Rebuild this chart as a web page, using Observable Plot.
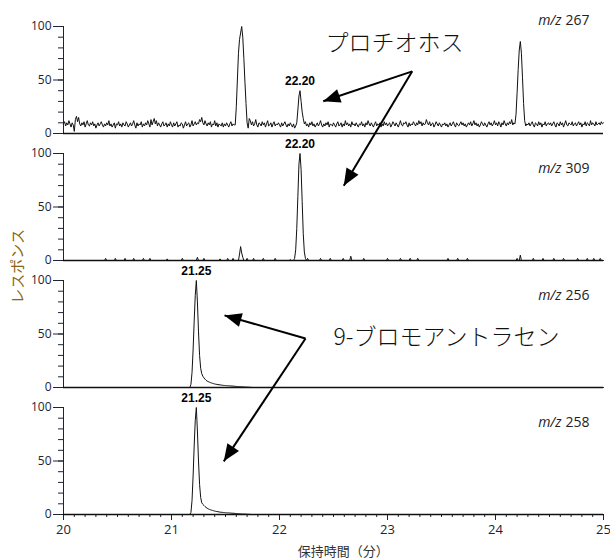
<!DOCTYPE html>
<html><head><meta charset="utf-8">
<script src="https://cdn.jsdelivr.net/npm/d3@7"></script>
<script src="https://cdn.jsdelivr.net/npm/@observablehq/plot@0.6"></script>
<style>body{margin:0;background:#fff;}</style>
</head><body><div id="chart"></div>
<script>
// ---- sampling grid (scan start / interval, minutes)
const scanStart = 20, scanStep = 0.01;

// ---- panels and ion labels
const panels = [0, 1, 2, 3];
const mzValues = ["267", "309", "256", "258"];

// ---- responses (%), one value per scan, 20.00 .. 25.00 min
const mz267 = [
 9,11,7,10,8,12,9,6,10,8,2,13,16,11,15,9,7,10,8,11,6,9,12,8,7,
 10,8,11,7,9,5,8,10,7,9,11,8,6,9,7,10,8,12,7,9,6,8,10,5,9,
 8,11,7,9,6,10,8,7,11,9,6,8,10,7,9,12,8,5,10,7,9,8,11,6,9,
 7,10,8,12,9,6,13,8,11,14,9,12,7,10,8,6,9,11,7,8,10,6,9,7,11,
 8,6,10,7,9,11,6,8,7,10,9,5,8,11,7,9,10,6,8,12,7,9,11,8,10,
 9,13,11,15,10,8,12,9,7,10,8,11,6,9,8,12,7,10,6,9,8,7,10,6,9,
 7,10,8,6,9,11,7,9,8,8,25,50,75,88,94,100,90,70,48,28,10,5,14,12,8,
 11,7,9,13,8,6,10,9,7,11,8,10,6,9,12,7,8,10,6,9,11,7,9,8,10,
 8,6,10,7,9,11,8,6,9,7,10,8,6,9,5,7,10,22,35,40,30,20,14,9,11,
 7,9,6,10,8,11,7,9,6,8,10,7,9,12,8,6,9,7,10,8,11,6,9,8,7,
 10,8,6,9,11,7,8,10,6,9,7,12,8,10,7,9,6,11,8,9,7,10,8,6,9,
 8,11,7,9,6,10,8,12,9,7,10,8,6,9,11,7,9,8,10,6,9,7,11,8,10,
 7,9,10,6,8,11,9,7,10,8,6,9,12,8,7,10,9,11,8,6,10,7,9,8,11,
 9,7,10,8,12,9,11,7,10,8,9,13,10,8,11,7,9,10,6,8,11,9,7,10,8,
 6,9,8,10,7,9,6,8,10,7,9,11,8,6,10,8,7,9,11,8,10,7,9,6,8,
 10,8,11,7,9,12,8,10,7,9,6,8,11,9,7,10,8,6,9,11,8,10,7,9,12,
 8,10,7,11,9,6,10,8,12,9,7,10,8,11,9,13,8,10,9,18,38,60,78,86,75,
 52,28,12,7,9,8,10,7,9,11,8,6,10,9,7,11,8,10,6,9,8,11,7,9,10,
 8,10,7,9,11,8,6,10,9,7,11,8,10,6,9,12,8,7,10,9,8,11,7,9,10,
 7,9,11,8,10,6,9,8,11,7,10,9,7,12,8,10,9,7,11,8,9,10,8,11,9,
 10];

const mz309 = [
 0,0,0,0,0,0,0,0,0,0,0,0,0,0,0,0,0,0,0,0,0,0,0,0,0,
 0,0,0,0,0,0,0,0,0,0,0,0,0,0,2,0,0,0,0,0,0,0,0,2,0,
 0,0,0,0,0,0,0,2,0,0,0,0,0,0,0,2,0,0,0,0,0,0,0,0,2,
 0,0,0,0,0,2,0,0,0,0,0,0,0,0,0,0,0,0,0,0,0,1.5,0,0,0,
 0,0,0,0,0,0,0,0,0,0,2,0,0,0,0,0,0,0,0,0,0,0,0,0,3,
 0,0,0,0,0,2,0,0,0,0,0,0,0,0,0,0,0,0,0,0,1.5,0,0,0,0,
 0,0,2,0,0,0,0,2,0,0,0,0,0,6,13,7,3,0,0,0,2,0,0,0,0,
 0,2,0,0,0,0,0,0,0,0,2,0,0,0,0,0,0,0,0,0,0,2,0,0,0,
 0,0,0,0,0,0,0,0,0,0,1,0,0,0,2,10,30,60,90,100,85,55,25,8,2,
 0,2,0,0,0,0,0,0,0,0,0,0,0,2,0,0,0,0,0,0,0,0,2,0,0,
 0,0,0,0,0,0,0,0,0,2,0,0,0,0,0,0,4,0,0,0,0,0,0,0,0,
 0,0,0,2,0,0,0,0,0,0,0,0,0,0,0,0,0,0,0,0,0,0,0,0,0,
 2,0,0,0,0,0,0,0,0,0,0,0,2,0,0,0,0,0,0,0,0,2,0,0,0,
 0,0,0,2,0,0,0,0,0,0,0,0,0,0,0,0,0,0,0,0,0,0,0,0,0,
 0,0,0,0,0,0,2,0,0,0,0,0,0,0,0,2,0,0,0,0,0,0,0,0,2,
 0,0,0,0,0,0,0,0,0,0,0,0,0,0,0,0,0,0,0,0,0,0,0,0,0,
 0,0,0,0,0,0,0,0,0,0,0,0,0,0,0,0,0,0,0,0,2,0,0,5,0,
 0,0,0,0,0,0,0,0,0,0,2,0,0,0,0,0,0,0,0,2,0,0,0,0,0,
 0,0,0,0,2,0,0,0,0,0,0,0,0,2,0,0,0,0,0,0,0,0,0,0,0,
 0,2,0,0,0,0,0,0,0,0,2,0,0,0,0,0,2,0,0,0,0,0,2,0,0,
 0];

const mz256 = [
 0,0,0,0,0,0,0,0,0,0,0,0,0,0,0,0,0,0,0,0,0,0,0,0,0,
 0,0,0,0,0,0,0,0,0,0,0,0,0,0,0,0,0,0,0,0,0,0,0,0,0,
 0,0,0,0,0,0,0,0,0,0,0,0,0,0,0,0,0,0,0,0,0,0,0,0,0,
 0,0,0,0,0,0,0,0,0,0,0,0,0,0,0,0,0,0,0,0,0,0,0,0,0,
 0,0,0,0,0,0,0,0,0,0,0,0,0,0,0,0,0,0,3,14,35,62,86,100,80,
 52,30,18,13,10.5,9,7.8,6.8,6,5.5,5,4.6,4.2,3.9,3.6,3.3,3.1,2.9,2.7,2.6,2.4,2.3,2.1,2,1.9,
 1.8,1.7,1.6,1.6,1.5,1.4,1.4,1.3,1.2,1.1,1,0.95,0.9,0.85,0.8,0.7,0.6,0.5,0.45,0.4,0.35,0.3,0.25,0.2,0.1,
 0,0,0,0,0,0,0,0,0,0,0,0,0,0,0,0,0,0,0,0,0,0,0,0,0,
 0,0,0,0,0,0,0,0,0,0,0,0,0,0,0,0,0,0,0,0,0,0,0,0,0,
 0,0,0,0,0,0,0,0,0,0,0,0,0,0,0,0,0,0,0,0,0,0,0,0,0,
 0,0,0,0,0,0,0,0,0,0,0,0,0,0,0,0,0,0,0,0,0,0,0,0,0,
 0,0,0,0,0,0,0,0,0,0,0,0,0,0,0,0,0,0,0,0,0,0,0,0,0,
 0,0,0,0,0,0,0,0,0,0,0,0,0,0,0,0,0,0,0,0,0,0,0,0,0,
 0,0,0,0,0,0,0,0,0,0,0,0,0,0,0,0,0,0,0,0,0,0,0,0,0,
 0,0,0,0,0,0,0,0,0,0,0,0,0,0,0,0,0,0,0,0,0,0,0,0,0,
 0,0,0,0,0,0,0,0,0,0,0,0,0,0,0,0,0,0,0,0,0,0,0,0,0,
 0,0,0,0,0,0,0,0,0,0,0,0,0,0,0,0,0,0,0,0,0,0,0,0,0,
 0,0,0,0,0,0,0,0,0,0,0,0,0,0,0,0,0,0,0,0,0,0,0,0,0,
 0,0,0,0,0,0,0,0,0,0,0,0,0,0,0,0,0,0,0,0,0,0,0,0,0,
 0,0,0,0,0,0,0,0,0,0,0,0,0,0,0,0,0,0,0,0,0,0,0,0,0,
 0];

const mz258 = [
 0,0,0,0,0,0,0,0,0,0,0,0,0,0,0,0,0,0,0,0,0,0,0,0,0,
 0,0,0,0,0,0,0,0,0,0,0,0,0,0,0,0,0,0,0,0,0,0,0,0,0,
 0,0,0,0,0,0,0,0,0,0,0,0,0,0,0,0,0,0,0,0,0,0,0,0,0,
 0,0,0,0,0,0,0,0,0,0,0,0,0,0,0,0,0,0,0,0,0,0,0,0,0,
 0,0,0,0,0,0,0,0,0,0,0,0,0,0,0,0,0,0,2,13,36,64,88,100,78,
 50,28,16,11,9.5,8.5,7.5,6.6,5.9,5.3,4.8,4.4,4.1,3.8,3.5,3.2,3,2.8,2.6,2.4,2.2,2.1,2,1.9,1.8,
 1.7,1.6,1.5,1.5,1.4,1.3,1.2,1.2,1.1,1,0.9,0.85,0.8,0.7,0.6,0.5,0.45,0.4,0.35,0.3,0.25,0.2,0.15,0.1,0,
 0,0,0,0,0,0,0,0,0,0,0,0,0,0,0,0,0,0,0,0,0,0,0,0,0,
 0,0,0,0,0,0,0,0,0,0,0,0,0,0,0,0,0,0,0,0,0,0,0,0,0,
 0,0,0,0,0,0,0,0,0,0,0,0,0,0,0,0,0,0,0,0,0,0,0,0,0,
 0,0,0,0,0,0,0,0,0,0,0,0,0,0,0,0,0,0,0,0,0,0,0,0,0,
 0,0,0,0,0,0,0,0,0,0,0,0,0,0,0,0,0,0,0,0,0,0,0,0,0,
 0,0,0,0,0,0,0,0,0,0,0,0,0,0,0,0,0,0,0,0,0,0,0,0,0,
 0,0,0,0,0,0,0,0,0,0,0,0,0,0,0,0,0,0,0,0,0,0,0,0,0,
 0,0,0,0,0,0,0,0,0,0,0,0,0,0,0,0,0,0,0,0,0,0,0,0,0,
 0,0,0,0,0,0,0,0,0,0,0,0,0,0,0,0,0,0,0,0,0,0,0,0,0,
 0,0,0,0,0,0,0,0,0,0,0,0,0,0,0,0,0,0,0,0,0,0,0,0,0,
 0,0,0,0,0,0,0,0,0,0,0,0,0,0,0,0,0,0,0,0,0,0,0,0,0,
 0,0,0,0,0,0,0,0,0,0,0,0,0,0,0,0,0,0,0,0,0,0,0,0,0,
 0,0,0,0,0,0,0,0,0,0,0,0,0,0,0,0,0,0,0,0,0,0,0,0,0,
 0];

// ---- peak labels
const peakPanels = [0, 1, 2, 3];
const peakTimes = [22.19, 22.19, 21.23, 21.23];
const peakTops = [40, 100, 100, 100];
const peakTexts = ["22.20", "22.20", "21.25", "21.25"];

// ---- axis ticks and titles
const xMajor = [20, 21, 22, 23, 24, 25];
const xMinor = d3.range(200, 251).map(d => d / 10);
const yMajor = [0, 50, 100];
const yMinor = d3.range(0, 101, 10);
const xTitle = "保持時間（分）";
const yTitle = "レスポンス";

// ---- annotations (data units of the panel they are anchored in)
const noteTexts = ["プロチオホス", "9-ブロモアントラセン"];
const notePanels = [0, 2];
const noteX = [22.426, 22.5];
const noteY = [84.2, 47];
const arrowPanels = [0, 0, 2, 2];
const arrowX1 = [23.229, 23.229, 22.241, 22.241];
const arrowY1 = [58.1, 58.1, 45.8, 45.8];
const arrowX2 = [22.405, 22.595, 21.491, 21.484];
const arrowY2 = [30.2, -48.8, 67.4, -69.0];

// ---- tables
const series = [mz267, mz309, mz256, mz258];
series.forEach((s, i) => { if (s.length !== 501) console.error("series", i, "length", s.length); });
const rows = series.flatMap((vals, p) => vals.map((v, i) => ({panel: p, t: scanStart + i * scanStep, v})));
const peaks = peakPanels.map((p, i) => ({panel: p, t: peakTimes[i], v: peakTops[i], text: peakTexts[i]}));
const notes = noteTexts.map((s, i) => ({panel: notePanels[i], x: noteX[i], y: noteY[i], text: s}));
const arrows = arrowPanels.map((p, i) => ({panel: p, x1: arrowX1[i], y1: arrowY1[i], x2: arrowX2[i], y2: arrowY2[i]}));
// axis titles, anchored to a panel and placed in the margin
const titleRows = [
  {panel: 1, x: 19.583, y: -5.5, text: yTitle, rotate: -90},
  {panel: 3, x: 22.59, y: -35.3, text: xTitle, rotate: 0}
];

function filledHead(color, context) {
  const doc = (context && context.document) || document;
  const ns = "http://www.w3.org/2000/svg";
  const m = doc.createElementNS(ns, "marker");
  m.setAttribute("viewBox", "-18 -8 20 16");
  m.setAttribute("markerWidth", 20);
  m.setAttribute("markerHeight", 16);
  m.setAttribute("markerUnits", "userSpaceOnUse");
  m.setAttribute("orient", "auto");
  m.setAttribute("refX", 0);
  m.setAttribute("refY", 0);
  const p = doc.createElementNS(ns, "path");
  p.setAttribute("d", "M0,0L-17,-7L-17,7Z");
  p.setAttribute("fill", color);
  p.setAttribute("stroke", "none");
  m.appendChild(p);
  return m;
}

const mzY = p => (p === 0 ? 105.6 : 86);

const chart = Plot.plot({
  width: 610,
  height: 560,
  marginTop: 25,
  marginRight: 7,
  marginBottom: 45,
  marginLeft: 63,
  style: {fontFamily: "'Open Sans','Noto Sans CJK JP',sans-serif", fontSize: "12px", color: "#1e2433", background: "#fff"},
  x: {domain: [20, 25]},
  y: {domain: [0, 100]},
  fy: {domain: panels, paddingInner: 0.157, paddingOuter: 0, axis: null},
  marks: [
    Plot.axisY({ticks: yMajor, tickSize: 10, tickPadding: 2, label: null, fontSize: 12}),
    Plot.axisY({ticks: yMinor, tickSize: 5, tickFormat: () => "", label: null}),
    Plot.ruleX([20], {y1: 0, y2: 100, stroke: "#1e2433"}),
    Plot.axisX({ticks: xMinor, tickSize: 3, tickFormat: () => "", label: null}),
    Plot.axisX({ticks: xMajor, tickSize: 6, tickPadding: 4, fontSize: 13, tickFormat: d => String(d), label: null}),
    Plot.ruleY([0], {stroke: "#111", strokeWidth: 1.6}),
    Plot.line(rows, {x: "t", y: "v", fy: "panel", stroke: "#111", strokeWidth: 1}),
    Plot.text(peaks, {x: "t", y: "v", fy: "panel", text: "text", dy: -9.5, fontWeight: "bold", fontSize: 12, fontFamily: "'Liberation Sans',sans-serif", fill: "#000"}),
    Plot.text(panels, {x: () => 24.87, y: mzY, fy: p => p, text: p => mzValues[p], textAnchor: "end", fontSize: 14, fill: "#222"}),
    Plot.text(panels, {x: () => 24.87, y: mzY, fy: p => p, text: () => "m/z", textAnchor: "end", dx: -28, fontSize: 14, fontStyle: "italic", fill: "#222"}),
    Plot.link(arrows, {x1: "x1", y1: "y1", x2: "x2", y2: "y2", fy: "panel", stroke: "#000", strokeWidth: 2, markerEnd: filledHead}),
    Plot.text(notes, {x: "x", y: "y", fy: "panel", text: "text", textAnchor: "start", fontSize: 23, fontWeight: 300, fontFamily: "'Noto Sans CJK JP',sans-serif", fill: "#111"}),
    Plot.text(titleRows.filter(d => d.rotate !== 0), {x: "x", y: "y", fy: "panel", text: "text", rotate: -90, fontSize: 15, fontFamily: "'Noto Sans CJK JP',sans-serif", fill: "#8a6414"}),
    Plot.text(titleRows.filter(d => d.rotate === 0), {x: "x", y: "y", fy: "panel", text: "text", fontSize: 13, fontFamily: "'Noto Sans CJK JP',sans-serif", fill: "#333"})
  ]
});
document.getElementById("chart").appendChild(chart);
</script>
</body></html>
